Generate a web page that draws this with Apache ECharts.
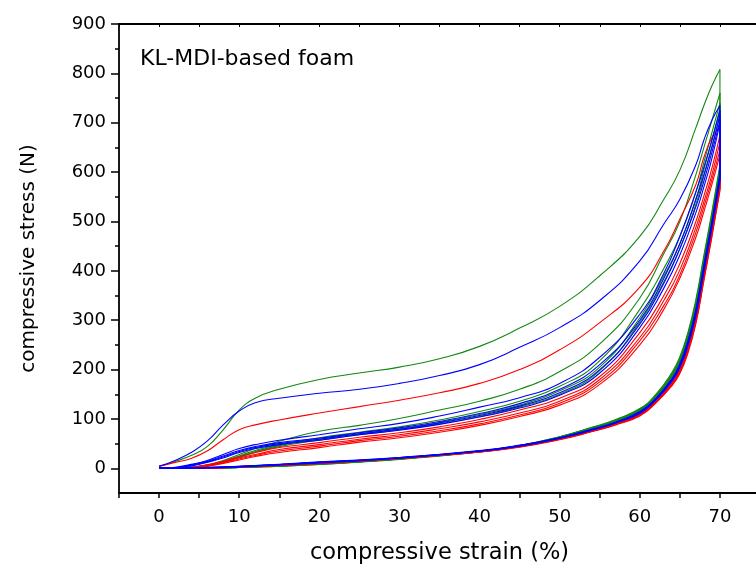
<!DOCTYPE html>
<html>
<head>
<meta charset="utf-8">
<title>KL-MDI-based foam</title>
<script src="https://cdn.jsdelivr.net/npm/echarts@6/dist/echarts.min.js"></script>
<style>
  html, body { margin: 0; padding: 0; overflow: hidden; background: #fff; }
  #main { width: 756px; height: 575px; }
</style>
</head>
<body>
<div id="main"></div>
<script>
// strain (%) where the curves were read
var loadX = [0, 2, 4, 6, 8, 10, 12, 15, 20, 25, 30, 35, 40, 45, 50, 55, 60, 63, 65, 67, 68, 69, 70]
var unloadX = [70, 69, 68, 67, 66, 65, 64, 62, 60, 57, 54, 50, 45, 40, 30, 20, 10, 5, 0]

var xTicks = [0, 10, 20, 30, 40, 50, 60, 70]
var yTicks = [0, 100, 200, 300, 400, 500, 600, 700, 800, 900]
var yMinor = [50, 150, 250, 350, 450, 550, 650, 750, 850]

// loading curves (N), cycle 1 is the high one
var greenLoad1 = [4, 14, 26, 44, 78, 118, 142, 160, 180, 193, 205, 222, 247, 284, 328, 390, 470, 545, 604, 690, 735, 775, 808]
var greenLoad2 = [0, 0, 2, 7, 16, 28, 40, 55, 75, 87, 101, 118, 136, 160, 196, 252, 345, 435, 500, 595, 650, 705, 760]
var greenLoad3 = [0, 0, 2, 6, 14, 25, 36, 48, 62, 73, 84, 98, 115, 136, 166, 218, 322, 405, 470, 560, 620, 680, 740]
var greenLoad4 = [0, 0, 2, 6, 13, 23, 34, 46, 59, 70, 80, 93, 109, 128, 157, 205, 305, 390, 455, 545, 605, 665, 728]
var greenLoad5 = [0, 0, 1, 5, 12, 22, 32, 44, 57, 68, 78, 90, 105, 124, 150, 198, 296, 378, 445, 535, 592, 652, 718]

var blueLoad1 = [4, 16, 32, 55, 88, 116, 133, 142, 152, 160, 172, 188, 210, 245, 285, 340, 420, 495, 545, 615, 665, 705, 735]
var blueLoad2 = [0, 2, 8, 16, 28, 40, 48, 57, 68, 80, 91, 106, 124, 143, 172, 225, 312, 395, 470, 560, 610, 665, 725]
var blueLoad3 = [0, 1, 7, 14, 25, 36, 44, 52, 61, 72, 82, 95, 111, 131, 160, 210, 300, 385, 455, 545, 595, 650, 715]
var blueLoad4 = [0, 1, 6, 13, 23, 34, 42, 50, 59, 70, 79, 92, 107, 126, 153, 200, 292, 375, 445, 530, 582, 640, 705]
var blueLoad5 = [0, 1, 5, 12, 21, 32, 40, 48, 57, 68, 77, 89, 104, 122, 148, 193, 285, 365, 432, 518, 570, 628, 700]

var redLoad1 = [4, 12, 20, 35, 58, 78, 88, 98, 112, 125, 138, 153, 172, 200, 240, 295, 367, 440, 505, 575, 630, 670, 692]
var redLoad2 = [0, 0, 2, 7, 14, 24, 32, 42, 52, 63, 72, 84, 99, 118, 142, 186, 275, 350, 415, 500, 552, 608, 675]
var redLoad3 = [0, 0, 2, 6, 12, 21, 28, 38, 48, 59, 68, 80, 94, 112, 136, 180, 265, 340, 402, 488, 540, 595, 660]
var redLoad4 = [0, 0, 1, 5, 11, 19, 26, 35, 45, 56, 65, 76, 90, 108, 132, 175, 258, 330, 392, 478, 530, 585, 645]
var redLoad5 = [0, 0, 1, 4, 10, 17, 24, 32, 42, 53, 62, 73, 87, 105, 128, 170, 250, 322, 385, 468, 520, 575, 635]

// unloading curves (N); each starts right after the drop at 70 %
var greenUnload1 = [615, 520, 432, 342, 275, 226, 194, 150, 121, 99, 83, 64, 46, 34, 19, 8, 1.5, 0, 0]
var greenUnload2 = [610, 515, 427, 337, 271, 223, 191, 148, 120, 98, 82, 64, 46, 34, 19, 9, 2, 0, 0]
var greenUnload3 = [606, 511, 423, 333, 268, 220, 189, 147, 119, 97, 82, 63, 45, 34, 19, 9, 2, 0.3, 0]
var greenUnload4 = [603, 508, 419, 330, 265, 218, 187, 146, 118, 96, 81, 63, 45, 33, 19, 9, 2, 0.3, 0]
var greenUnload5 = [600, 505, 416, 327, 262, 216, 185, 145, 117, 96, 81, 63, 45, 33, 18, 8, 1.5, 0, 0]

var blueUnload1 = [596, 500, 412, 322, 258, 212, 182, 142, 115, 94, 79, 62, 47, 36, 22, 13, 4, 1, 0]
var blueUnload2 = [592, 497, 408, 319, 255, 210, 180, 141, 114, 93, 79, 62, 46, 35, 22, 12, 4, 1, 0]
var blueUnload3 = [588, 494, 405, 316, 253, 208, 179, 140, 113, 93, 78, 61, 46, 35, 21, 12, 3.5, 0.8, 0]
var blueUnload4 = [585, 491, 402, 313, 251, 206, 177, 139, 112, 92, 78, 61, 46, 35, 21, 12, 3.5, 0.8, 0]
var blueUnload5 = [582, 488, 399, 310, 248, 204, 176, 138, 111, 92, 77, 61, 45, 35, 21, 11, 3, 0.5, 0]

var redUnload1 = [575, 482, 393, 305, 243, 200, 173, 136, 110, 91, 76, 60, 45, 34, 21, 11, 3, 0.5, 0]
var redUnload2 = [572, 478, 389, 302, 240, 198, 171, 135, 109, 90, 76, 60, 44, 34, 21, 11, 3, 0.5, 0]
var redUnload3 = [568, 475, 386, 299, 238, 196, 170, 134, 108, 89, 75, 59, 44, 34, 20, 10, 3, 0.5, 0]
var redUnload4 = [565, 472, 383, 296, 236, 194, 168, 133, 107, 89, 75, 59, 44, 33, 20, 10, 2.5, 0.3, 0]
var redUnload5 = [562, 469, 380, 293, 233, 192, 167, 132, 106, 88, 74, 58, 43, 33, 20, 10, 2.5, 0.3, 0]

var GREEN = '#118811'
var BLUE = '#0000ff'
var RED = '#ff0000'
var FONT = 'DejaVu Sans, Liberation Sans, sans-serif'

var groups = [
  { color: GREEN, load: [greenLoad1, greenLoad2, greenLoad3, greenLoad4, greenLoad5], unload: [greenUnload1, greenUnload2, greenUnload3, greenUnload4, greenUnload5] },
  { color: RED, load: [redLoad1, redLoad2, redLoad3, redLoad4, redLoad5], unload: [redUnload1, redUnload2, redUnload3, redUnload4, redUnload5] },
  { color: BLUE, load: [blueLoad1, blueLoad2, blueLoad3, blueLoad4, blueLoad5], unload: [blueUnload1, blueUnload2, blueUnload3, blueUnload4, blueUnload5] }
]

function pairs (xs, ys) {
  return xs.map(function (x, i) { return [x, ys[i]] })
}

function lineSeries (data, color, smooth) {
  return {
    type: 'line',
    data: data,
    showSymbol: false,
    smooth: smooth,
    silent: true,
    lineStyle: { color: color, width: 1.1 }
  }
}

var series = []
groups.forEach(function (g) {
  g.load.forEach(function (ys, i) {
    var peak = ys[ys.length - 1]
    var down = g.unload[i]
    series.push(lineSeries(pairs(loadX, ys), g.color, 0.5))
    // straight drop at 70 %, then the unloading branch
    series.push(lineSeries([[70, peak], [70, down[0]]], g.color, false))
    series.push(lineSeries(pairs(unloadX, down), g.color, 0.5))
  })
})

var axisBlack = { color: '#000', width: 1.8 }

var chart = echarts.init(document.getElementById('main'))
chart.setOption({
  animation: false,
  backgroundColor: '#fff',
  textStyle: { fontFamily: FONT },
  title: {
    text: 'KL-MDI-based foam',
    left: 140,
    top: 48,
    padding: 0,
    textStyle: { fontFamily: FONT, fontSize: 22, fontWeight: 'normal', color: '#000' }
  },
  grid: { left: 119, right: -4, top: 24, bottom: 82, outerBoundsMode: 'none' },
  xAxis: [
    {
      type: 'value',
      min: -5,
      max: 75,
      interval: 5,
      name: 'compressive strain (%)',
      nameLocation: 'middle',
      nameGap: 49,
      nameTextStyle: { fontFamily: FONT, fontSize: 22.5, color: '#000' },
      axisLine: { show: true, onZero: false, lineStyle: axisBlack },
      axisTick: { show: true, inside: false, length: 5, lineStyle: { color: '#000', width: 1.5 } },
      axisLabel: { customValues: xTicks, margin: 15, fontFamily: FONT, fontSize: 18, color: '#000' },
      splitLine: { show: false }
    },
    {
      type: 'value',
      position: 'top',
      min: -5,
      max: 75,
      interval: 5,
      axisLine: { show: true, onZero: false, lineStyle: axisBlack },
      axisTick: { show: true, inside: true, length: 3, lineStyle: { color: '#000', width: 1 } },
      axisLabel: { show: false },
      splitLine: { show: false }
    }
  ],
  yAxis: [
    {
      type: 'value',
      min: -50,
      max: 900,
      interval: 50,
      name: 'compressive stress (N)',
      nameLocation: 'middle',
      nameGap: 80,
      nameTextStyle: { fontFamily: FONT, fontSize: 20, color: '#000' },
      axisLine: { show: true, onZero: false, lineStyle: axisBlack },
      axisTick: { show: true, customValues: yTicks, inside: false, length: 8, lineStyle: { color: '#000', width: 1.5 } },
      axisLabel: { customValues: yTicks, margin: 13, fontFamily: FONT, fontSize: 18, color: '#000' },
      splitLine: { show: false }
    },
    {
      type: 'value',
      position: 'left',
      min: -50,
      max: 900,
      interval: 50,
      axisLine: { show: false, onZero: false },
      axisTick: { show: true, customValues: yMinor, inside: false, length: 4, lineStyle: { color: '#000', width: 1.5 } },
      axisLabel: { show: false },
      splitLine: { show: false }
    }
  ],
  series: series
})
</script>
</body>
</html>
